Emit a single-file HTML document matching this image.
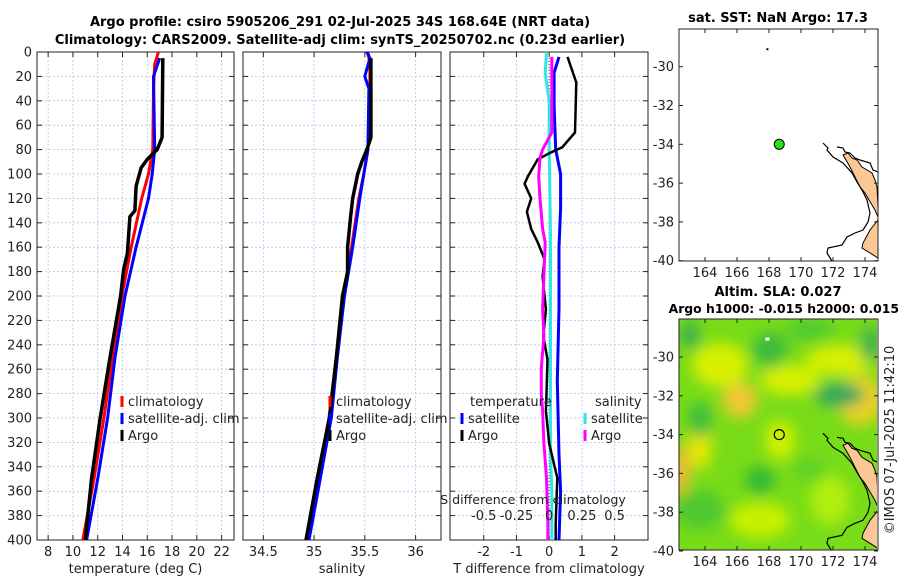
<!DOCTYPE html>
<html><head><meta charset="utf-8"><style>
html,body{margin:0;padding:0;background:#fff;}
svg{display:block;font-family:"DejaVu Sans","Liberation Sans",sans-serif;}
</style></head><body>
<svg id="fig" width="900" height="580" viewBox="0 0 900 580">
<defs>
<filter id="blur" x="-20%" y="-20%" width="140%" height="140%"><feGaussianBlur stdDeviation="7"/></filter>
<clipPath id="mapclip"><rect x="679" y="319" width="198" height="231"/></clipPath>
</defs>
<g id="titles" font-weight="bold" font-size="13" text-anchor="middle">
<text x="340" y="26">Argo profile: csiro 5905206_291 02-Jul-2025 34S 168.64E (NRT data)</text>
<text x="340" y="44">Climatology: CARS2009. Satellite-adj clim: synTS_20250702.nc (0.23d earlier)</text>
<text x="778" y="22">sat. SST: NaN Argo: 17.3</text>
<text x="778" y="296">Altim. SLA: 0.027</text>
<text x="899" y="313" text-anchor="end" font-size="12.4">Argo h1000: -0.015 h2000: 0.015</text>
</g>
<g id="panels"></g>
<g id="maps"></g>
<text transform="translate(894,440) rotate(-90)" font-size="13" text-anchor="middle" fill="#222">©IMOS 07-Jul-2025 11:42:10</text>
</svg>
<script>
// ---- data ----
const depthTicks=[0,20,40,60,80,100,120,140,160,180,200,220,240,260,280,300,320,340,360,380,400];
const tempTicks=[8,10,12,14,16,18,20,22];
const salTicks=[34.5,35,35.5,36];
const tdiffTicks=[-2,-1,0,1,2];
const sdiffTicks=[-0.5,-0.25,0,0.25,0.5];
const sdiffLabels=["-0.5","-0.25","0","0.25","0.5"];

const tClimDepth=[0,10,30,80,100,120,160,200,250,300,350,400];
const tClimVal=[16.9,16.6,16.5,16.45,16.1,15.55,14.7,13.95,13.2,12.5,11.7,10.8];
const tSatDepth=[5,20,80,100,120,160,200,250,300,350,400];
const tSatVal=[17.0,16.5,16.6,16.4,16.1,15.1,14.2,13.4,12.8,12.0,11.1];
const tArgoDepth=[5,70,80,88,95,110,130,135,165,178,200,250,300,350,400];
const tArgoVal=[17.25,17.2,16.8,16.0,15.5,15.1,15.0,14.6,14.4,14.1,13.85,13.0,12.2,11.5,11.0];

const sClimDepth=[0,10,30,80,100,120,160,200,250,300,350,400];
const sClimVal=[35.53,35.55,35.55,35.53,35.49,35.44,35.37,35.29,35.22,35.15,35.03,34.93];
const sSatDepth=[0,5,20,30,80,100,120,160,200,250,300,350,400];
const sSatVal=[35.52,35.55,35.5,35.54,35.53,35.49,35.45,35.38,35.3,35.23,35.17,35.06,34.95];
const sArgoDepth=[5,70,80,90,100,120,135,160,180,200,250,300,350,400];
const sArgoVal=[35.56,35.56,35.52,35.47,35.43,35.38,35.36,35.33,35.33,35.28,35.22,35.15,35.03,34.92];

const dTSatDepth=[4,17,44,80,100,128,160,210,270,330,360,400];
const dTSatVal=[0.3,0.15,0.15,0.2,0.35,0.35,0.3,0.3,0.25,0.3,0.35,0.3];
const dTArgoDepth=[4,25,66,78,83,88,102,108,120,131,145,156,170,184,211,233,252,280,294,321,338,349,387,400];
const dTArgoVal=[0.56,0.83,0.79,0.4,0,-0.35,-0.65,-0.75,-0.55,-0.68,-0.55,-0.35,-0.14,-0.2,-0.1,-0.18,-0.05,-0.08,-0.1,0,0.15,0.25,0.2,0.2];
const dSSatDepth=[0,17,25,40,80,150,250,330,360,400];
const dSSatVal=[-0.02,-0.03,-0.02,0,0,0.01,0.01,0.01,0.02,0.02];
const dSArgoDepth=[4,44,66,80,87,102,120,145,156,184,211,233,259,280,294,321,349,387,400];
const dSArgoVal=[0.02,0.02,0.02,-0.05,-0.07,-0.08,-0.07,-0.05,-0.03,-0.04,-0.05,-0.04,-0.06,-0.06,-0.05,-0.04,-0.02,-0.01,-0.01];

const argoLon=[168.64], argoLat=[-34.0];
const mapLonTicks=[164,166,168,170,172,174];
const mapLatTicks=[-30,-32,-34,-36,-38,-40];

// ---- helpers ----
const NS="http://www.w3.org/2000/svg";
function mk(tag,attrs,parent){const e=document.createElementNS(NS,tag);for(const k in attrs)e.setAttribute(k,attrs[k]);parent.appendChild(e);return e;}
const panelsG=document.getElementById('panels');
const Y0=52,Y1=540;
const yD=d=>Y0+(d-0)*(Y1-Y0)/400;

function panel(name,x0,x1,xMin,xMax,ticks,labels,xlabel,showY){
  const g=mk('g',{},panelsG);
  
  
  const sx=v=>x0+(v-xMin)*(x1-x0)/(xMax-xMin);
  ticks.forEach(t=>{const l=mk('line',{x1:sx(t),x2:sx(t),y1:Y0,y2:Y1,stroke:'#b8c4ee','stroke-width':0.8,'stroke-dasharray':'2,2'},g);});
  depthTicks.forEach(d=>{const l=mk('line',{x1:x0,x2:x1,y1:yD(d),y2:yD(d),stroke:'#b8c4ee','stroke-width':0.8,'stroke-dasharray':'2,2'},g);
    mk('line',{x1:x0,x2:x0+5,y1:yD(d),y2:yD(d),stroke:'#222'},g);mk('line',{x1:x1,x2:x1-5,y1:yD(d),y2:yD(d),stroke:'#222'},g);
    if(showY){const t=mk('text',{x:x0-5,y:yD(d)+4.5,'font-size':13,'text-anchor':'end',fill:'#222'},g);t.textContent=d;}
  });
  ticks.forEach((t,i)=>{mk('line',{x1:sx(t),x2:sx(t),y1:Y1,y2:Y1-5,stroke:'#222'},g);mk('line',{x1:sx(t),x2:sx(t),y1:Y0,y2:Y0+5,stroke:'#222'},g);
    const tx=mk('text',{x:sx(t),y:556,'font-size':13,'text-anchor':'middle',fill:'#222'},g);tx.textContent=labels[i];});
  const xl=mk('text',{x:(x0+x1)/2,y:573,'font-size':13,'text-anchor':'middle',fill:'#222'},g);xl.textContent=xlabel;
  
  mk('rect',{x:x0,y:Y0,width:x1-x0,height:Y1-Y0,fill:'none',stroke:'#222','stroke-width':1},g);
  return {g,sx};
}
function line(p,sx,ds,vs,color,w,name){
  const pts=ds.map((d,i)=>sx(vs[i]).toFixed(1)+','+yD(d).toFixed(1)).join(' ');
  const pl=mk('polyline',{points:pts,fill:'none',stroke:color,'stroke-width':w,'stroke-linejoin':'round'},p.g);
  
}
function legend(p,x,y,items,title,tx){
  if(title){const t=mk('text',{x:x+(tx||6),y:y,'font-size':13,fill:'#222'},p.g);t.textContent=title;y+=17;}
  items.forEach(([c,l])=>{mk('line',{x1:x+2,x2:x+2,y1:y-10,y2:y+1,stroke:c,'stroke-width':3},p.g);
    const t=mk('text',{x:x+8,y:y,'font-size':13,fill:'#222'},p.g);t.textContent=l;y+=17;});
}

// panel 1 temperature
const p1=panel('temperature-panel',37,234,7.1,23,tempTicks,tempTicks.map(String),'temperature (deg C)',true);
line(p1,p1.sx,tClimDepth,tClimVal,'#f00',3,'temp-climatology-line');
line(p1,p1.sx,tSatDepth,tSatVal,'#00f',3,'temp-satellite-line');
line(p1,p1.sx,tArgoDepth,tArgoVal,'#000',3.5,'temp-argo-line');
legend(p1,120,406,[['#f00','climatology'],['#00f','satellite-adj. clim'],['#000','Argo']]);

// panel 2 salinity
const p2=panel('salinity-panel',243,441,34.3,36.25,salTicks,['34.5','35','35.5','36'],'salinity',false);
line(p2,p2.sx,sClimDepth,sClimVal,'#f00',3,'sal-climatology-line');
line(p2,p2.sx,sSatDepth,sSatVal,'#00f',3,'sal-satellite-line');
line(p2,p2.sx,sArgoDepth,sArgoVal,'#000',3.5,'sal-argo-line');
legend(p2,328,406,[['#f00','climatology'],['#00f','satellite-adj. clim'],['#000','Argo']]);

// panel 3 differences
const p3=panel('difference-panel',450,648,-3.03,3.02,tdiffTicks,tdiffTicks.map(String),'T difference from climatology',false);
const sxS=v=>p3.sx(v*4);
mk('line',{x1:p3.sx(0),x2:p3.sx(0),y1:Y0,y2:Y1,stroke:'#444','stroke-width':1,'stroke-dasharray':'1,2'},p3.g);
line(p3,sxS,dSSatDepth,dSSatVal,'#2ee6e6',3,'sdiff-satellite-line');
line(p3,p3.sx,dTSatDepth,dTSatVal,'#00f',3,'tdiff-satellite-line');
line(p3,p3.sx,dTArgoDepth,dTArgoVal,'#000',2.5,'tdiff-argo-line');
line(p3,sxS,dSArgoDepth,dSArgoVal,'#f0f',3,'sdiff-argo-line');
legend(p3,460,406,[['#00f','satellite'],['#000','Argo']],'temperature',10);
legend(p3,583,406,[['#2ee6e6','satellite'],['#f0f','Argo']],'salinity',12);
{const t=mk('text',{x:533,y:504,'font-size':12.6,'text-anchor':'middle',fill:'#222'},p3.g);t.textContent='S difference from climatology';
 sdiffTicks.forEach((s,i)=>{const tx=mk('text',{x:sxS(s),y:520,'font-size':13,'text-anchor':'middle',fill:'#222'},p3.g);tx.textContent=sdiffLabels[i];});}

// ---- maps ----
const mapsG=document.getElementById('maps');
const lonX=lon=>705+(lon-164)*16;
function mapFrame(name,y30,y0,bottom){
  const g=mk('g',{},mapsG);
  
  const latY=lat=>y30+(-30-lat)*19.4;
  return {g,latY,y0,bottom};
}
function axes(m){
  const g=m.g;
  mk('rect',{x:679,y:m.y0,width:199,height:m.bottom-m.y0,fill:'none',stroke:'#222'},g);
  mapLonTicks.forEach(l=>{const x=lonX(l);mk('line',{x1:x,x2:x,y1:m.y0,y2:m.y0+4,stroke:'#222'},g);mk('line',{x1:x,x2:x,y1:m.bottom,y2:m.bottom-4,stroke:'#222'},g);
    const t=mk('text',{x:x,y:m.bottom+16,'font-size':13,'text-anchor':'middle',fill:'#222'},g);t.textContent=l;});
  mapLatTicks.forEach(l=>{const y=m.latY(l);mk('line',{x1:679,x2:683,y1:y,y2:y,stroke:'#222'},g);mk('line',{x1:878,x2:874,y1:y,y2:y,stroke:'#222'},g);
    const t=mk('text',{x:674,y:y+4.5,'font-size':13,'text-anchor':'end',fill:'#222'},g);t.textContent=l;});
}
const outerC="823,143 828,148 827,150 833,157 843,163 852,173 857,182 862,190 867,200 870,213 868,222 863,230 855,233 847,237 842,245 828,248 827,253 832,261";
const innerC="837,147 843,148 845,152 850,153 855,158 860,160 870,163 873,170 878,172";
const land1="843,155 848,153 852,158 857,160 862,167 867,170 872,173 875,180 877,187 878,207 878,217 875,210 869,200 865,193 860,187 855,177 850,167 846,160";
const land2="878,220 870,230 863,243 862,248 870,253 878,258";
function coast(g,dy){
  const a=mk('g',{transform:'translate(0,'+dy+')'},g);
  
  mk('polygon',{points:land1,fill:'#fbc795',stroke:'#000','stroke-width':1},a);
  mk('polygon',{points:land2,fill:'#fbc795',stroke:'#000','stroke-width':1},a);
  mk('polyline',{points:outerC,fill:'none',stroke:'#000','stroke-width':1.2},a);
  mk('polyline',{points:innerC,fill:'none',stroke:'#000','stroke-width':1.2},a);
}
// top map
const m1=mapFrame('sst-map',66.7,29,261);
mk('rect',{x:679,y:29,width:199,height:232,fill:'#fff'},m1.g);
coast(m1.g,0);
mk('rect',{x:lonX(167.9)-1,y:m1.latY(-29.1)-1,width:2,height:2,fill:'#000'},m1.g);
argoLon.forEach((lo,i)=>{const c=mk('circle',{cx:lonX(lo),cy:m1.latY(argoLat[i]),r:5,fill:'#2ee01a',stroke:'#000','stroke-width':1},m1.g);});
axes(m1);
// bottom map
const m2=mapFrame('sla-map',357,319,550);
const field=mk('g',{'clip-path':'url(#mapclip)'},m2.g);

mk('rect',{x:679,y:319,width:199,height:231,fill:'#78dc18'},field);
const blobs=mk('g',{filter:'url(#blur)'},field);
[[720,365,28,22,'#d8f000'],[740,400,18,18,'#f0c830'],[700,440,12,30,'#e8e800'],[680,470,10,25,'#f0b830'],[840,360,35,15,'#d8f000'],[860,400,22,25,'#f0d020'],[790,380,30,15,'#d8f000'],[780,440,15,20,'#d0f000'],[760,520,30,18,'#c8f000'],[830,500,20,25,'#b0ee10'],[700,420,12,18,'#3cbc3c'],[770,350,18,18,'#3cbc3c'],[840,395,25,12,'#30a860'],[760,480,15,14,'#34b838'],[700,510,25,20,'#50c830'],[810,330,25,10,'#50c830'],[690,335,10,15,'#3cb050'],[870,345,10,18,'#3cb050'],[810,470,18,12,'#60d028']].forEach(b=>mk('ellipse',{cx:b[0],cy:b[1],rx:b[2],ry:b[3],fill:b[4]},blobs));
coast(field,290.3);
mk('rect',{x:lonX(167.9)-2,y:m2.latY(-29.1)-2,width:4,height:3,fill:'#fff'},m2.g);
argoLon.forEach((lo,i)=>{const c=mk('circle',{cx:lonX(lo),cy:m2.latY(argoLat[i]),r:5,fill:'none',stroke:'#000','stroke-width':1.2},m2.g);});
axes(m2);
</script>
</body></html>
